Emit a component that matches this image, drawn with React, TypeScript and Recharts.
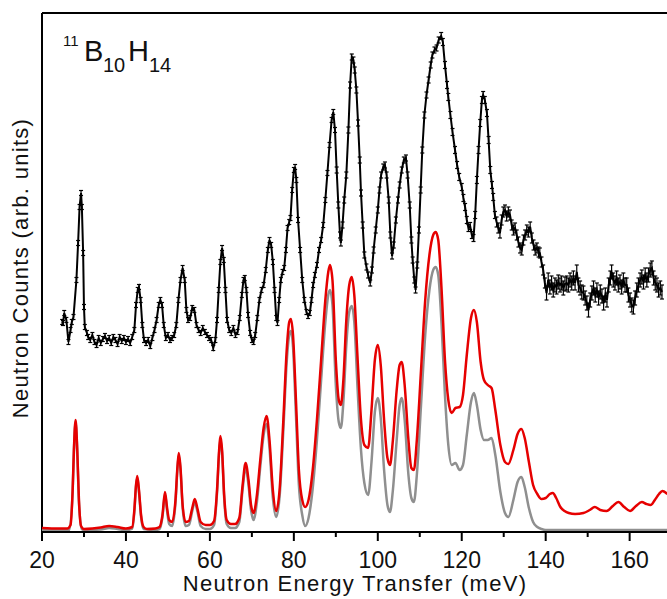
import React from "react";
import { LineChart, Line, XAxis, YAxis, ErrorBar, ReferenceLine } from "recharts";

// experimental INS spectrum: [energy meV, counts arb.]
const expPoints: [number, number][] = [
  [24.8, 21.0], [25.0, 20.9], [25.3, 21.9], [25.8, 21.2], [26.3, 19.0], [26.8, 20.2], [27.1, 21.0], [27.5, 21.5],
  [28.2, 25.2], [28.6, 28.9], [28.95, 32.5], [29.3, 33.9], [29.5, 32.5], [29.8, 27.9], [30.0, 22.5], [30.2, 20.5],
  [30.7, 19.9], [31.0, 19.5], [31.5, 19.2], [32.0, 19.7], [32.5, 19.0], [33.0, 18.7], [33.5, 19.4], [34.0, 18.9],
  [34.5, 19.3], [35.0, 19.6], [35.5, 19.1], [36.0, 19.4], [36.5, 18.9], [37.0, 19.5], [37.5, 19.2], [38.0, 18.8],
  [38.5, 19.5], [39.0, 19.1], [39.5, 19.4], [40.0, 19.0], [40.5, 19.3], [41.0, 18.9], [41.5, 19.5], [42.0, 20.2],
  [42.4, 22.7], [42.8, 24.2], [43.1, 24.5], [43.5, 23.2], [43.9, 20.7], [44.3, 19.2], [44.8, 18.9], [45.3, 19.2],
  [45.8, 18.6], [46.3, 19.4], [46.8, 20.2], [47.3, 21.2], [47.8, 22.7], [48.2, 23.2], [48.6, 22.7], [49.0, 20.7],
  [49.5, 19.4], [50.0, 19.7], [50.5, 19.2], [51.0, 19.4], [51.5, 19.7], [52.0, 20.7], [52.5, 23.2], [53.0, 25.2],
  [53.5, 26.4], [54.0, 25.2], [54.4, 22.2], [54.8, 21.2], [55.3, 21.4], [55.8, 22.4], [56.3, 22.2], [56.8, 20.7],
  [57.3, 20.2], [57.8, 19.9], [58.3, 20.4], [58.8, 20.0], [59.3, 19.7], [59.8, 19.4], [60.3, 19.2], [60.8, 18.4],
  [61.3, 19.2], [61.7, 21.2], [62.1, 24.2], [62.5, 27.0], [62.9, 28.4], [63.3, 27.2], [63.7, 24.2], [64.1, 21.2],
  [64.6, 20.2], [65.1, 19.9], [65.6, 20.4], [66.1, 19.7], [66.6, 20.0], [67.1, 21.4], [67.6, 23.7], [68.0, 25.2],
  [68.3, 25.4], [68.7, 24.2], [69.1, 21.7], [69.6, 19.9], [70.0, 19.2], [70.4, 19.0], [70.8, 19.7], [71.3, 21.4],
  [71.8, 23.2], [72.3, 24.2], [72.8, 24.7], [73.3, 26.2], [73.8, 28.2], [74.2, 29.2], [74.6, 28.7], [75.0, 27.0],
  [75.4, 24.2], [75.8, 21.4], [76.1, 20.9], [76.5, 23.2], [76.9, 25.2], [77.3, 26.0], [77.7, 26.4], [78.1, 28.2],
  [78.5, 30.4], [78.9, 31.0], [79.2, 31.4], [79.6, 34.2], [80.0, 36.2], [80.3, 36.5], [80.6, 35.2], [81.0, 31.2],
  [81.5, 28.2], [82.0, 25.2], [82.5, 23.2], [83.0, 22.0], [83.4, 21.6], [83.8, 21.9], [84.2, 23.2], [84.6, 24.7],
  [85.0, 25.7], [85.5, 26.7], [86.0, 28.2], [86.5, 29.2], [87.0, 30.7], [87.5, 33.2], [88.0, 35.9], [88.5, 38.7],
  [89.0, 41.2], [89.4, 42.0], [89.8, 40.2], [90.2, 36.2], [90.6, 32.7], [91.0, 29.7], [91.2, 28.9], [91.6, 30.7],
  [92.0, 33.2], [92.5, 35.7], [93.0, 40.2], [93.4, 44.7], [93.8, 47.5], [94.2, 47.2], [94.5, 46.2], [94.9, 44.2],
  [95.3, 40.9], [95.7, 37.2], [96.0, 33.9], [96.4, 30.7], [96.8, 27.7], [97.3, 26.5], [97.7, 25.7], [98.2, 24.9],
  [98.6, 26.2], [99.0, 28.2], [99.5, 30.2], [100.0, 32.2], [100.4, 34.2], [100.8, 35.7], [101.3, 36.5], [101.7, 36.7],
  [102.1, 35.7], [102.6, 33.2], [103.0, 29.7], [103.4, 27.6], [103.8, 28.7], [104.3, 31.2], [104.8, 33.2], [105.2, 34.7],
  [105.7, 36.2], [106.2, 37.2], [106.7, 37.4], [107.1, 35.7], [107.6, 32.7], [108.0, 29.2], [108.3, 27.2], [108.7, 25.2],
  [109.0, 24.2], [109.4, 26.7], [109.8, 30.2], [110.2, 34.2], [110.6, 38.2], [111.1, 41.7], [111.6, 43.7], [112.1, 45.2],
  [112.6, 46.7], [113.0, 47.7], [113.5, 48.2], [114.0, 48.4], [114.5, 49.2], [115.1, 49.6], [115.5, 49.0], [116.0, 46.7],
  [116.5, 44.7], [116.8, 43.5], [117.3, 41.7], [117.8, 40.0], [118.4, 38.2], [118.9, 36.7], [119.4, 35.5], [120.0, 34.5],
  [120.4, 33.4], [120.8, 32.5], [121.2, 31.2], [121.6, 30.4], [122.0, 30.6], [122.4, 29.7], [122.8, 29.4], [123.2, 31.7],
  [123.6, 35.2], [124.0, 38.2], [124.4, 40.9], [124.8, 43.2], [125.1, 43.7], [125.5, 43.2], [126.0, 41.9], [126.4, 39.2],
  [126.8, 36.2], [127.2, 34.7], [127.5, 33.5], [127.9, 31.7], [128.3, 31.0], [128.7, 30.4], [129.1, 29.9], [129.5, 31.2],
  [129.9, 32.0], [130.3, 32.2], [130.7, 31.6], [131.1, 32.0], [131.5, 31.7], [131.9, 30.7], [132.3, 30.2], [132.7, 30.4],
  [133.1, 29.7], [133.5, 29.0], [133.9, 28.4], [134.3, 28.2], [134.7, 29.2], [135.1, 29.7], [135.5, 30.2], [135.9, 30.0],
  [136.3, 30.5], [136.7, 29.4], [137.1, 28.7], [137.5, 28.2], [137.9, 28.4], [138.3, 28.0], [138.6, 27.9], [139.0, 27.0],
  [139.4, 26.2], [139.8, 24.9], [140.2, 23.9], [140.6, 25.2], [141.0, 24.5], [141.4, 24.9], [141.8, 24.2], [142.2, 24.7],
  [142.6, 24.5], [143.0, 25.0], [143.4, 24.7], [143.8, 24.9], [144.2, 24.4], [144.6, 24.8], [145.0, 24.9], [145.4, 24.7],
  [145.8, 25.2], [146.2, 24.9], [146.6, 25.4], [147.0, 24.9], [147.4, 26.0], [147.8, 24.7], [148.2, 24.4], [148.6, 24.0],
  [149.0, 23.9], [149.4, 23.4], [149.8, 22.9], [150.2, 22.2], [150.6, 23.2], [151.0, 23.9], [151.4, 24.4], [151.8, 23.7],
  [152.2, 24.2], [152.6, 23.4], [153.0, 24.0], [153.4, 23.6], [153.8, 22.9], [154.2, 23.7], [154.6, 23.2], [155.0, 24.7],
  [155.4, 25.4], [155.7, 26.0], [156.1, 25.2], [156.5, 24.9], [156.9, 25.4], [157.3, 24.7], [157.7, 25.0], [158.1, 24.5],
  [158.5, 25.2], [158.9, 24.7], [159.3, 24.7], [159.7, 23.7], [160.1, 23.2], [160.5, 22.7], [160.9, 22.5], [161.3, 23.4],
  [161.7, 24.2], [162.1, 24.7], [162.5, 25.2], [162.9, 25.5], [163.3, 25.0], [163.7, 25.7], [164.1, 25.2], [164.5, 25.7],
  [164.9, 26.2], [165.3, 26.4], [165.7, 25.4], [166.1, 24.9], [166.5, 24.7], [166.9, 24.2], [167.3, 24.4], [167.7, 24.0],
];

// error bar half-height, by energy range start
const errorBands: [number, number][] = [[20, 0.25], [90, 0.3], [115, 0.35], [128, 0.5], [140, 0.7]];

// calculated spectrum, all overtones (red)
const calcTotal: [number, number][] = [
  [20, 0.4], [24, 0.35], [26, 0.35], [26.8, 0.7], [27.3, 4.2], [27.6, 8.2], [28.0, 11.2], [28.4, 8.2], [28.8, 3.2],
  [29.3, 0.6], [30, 0.3], [32, 0.35], [34, 0.45], [36, 0.6], [38, 0.5], [40, 0.35], [41.5, 0.5], [42.0, 2.2],
  [42.4, 4.7], [42.7, 5.6], [43.1, 4.2], [43.6, 1.7], [44.2, 0.5], [45, 0.3], [47, 0.35], [48, 0.5], [48.7, 1.7],
  [49.3, 4.0], [49.8, 2.4], [50.3, 1.2], [51.0, 1.0], [51.8, 3.2], [52.3, 6.7], [52.6, 7.9], [53.0, 6.4], [53.5, 2.7],
  [54.2, 1.0], [55.0, 1.1], [55.8, 2.4], [56.4, 3.3], [57.0, 2.4], [57.8, 1.0], [59, 0.7], [60, 0.7], [61, 1.1],
  [61.7, 4.2], [62.2, 8.2], [62.5, 9.6], [62.9, 8.2], [63.4, 3.7], [64.0, 1.2], [65.0, 0.8], [66.0, 0.8], [67.0, 1.4],
  [67.8, 4.7], [68.5, 6.9], [69.2, 5.2], [69.8, 2.7], [70.4, 1.9], [71.2, 3.7], [72.0, 7.2], [72.8, 10.4], [73.5, 11.6],
  [74.2, 9.2], [75.0, 4.2], [75.8, 2.1], [76.6, 4.2], [77.5, 11.2], [78.3, 18.2], [78.9, 21.0], [79.3, 21.3], [79.8, 19.7],
  [80.5, 13.2], [81.2, 6.2], [82.0, 3.2], [82.7, 2.5], [83.5, 3.2], [84.5, 6.2], [85.5, 11.2], [86.5, 17.2], [87.5, 23.2],
  [88.2, 26.0], [88.6, 26.7], [89.2, 25.2], [90.0, 17.2], [90.7, 13.2], [91.2, 12.7], [91.8, 15.2], [92.5, 21.2], [93.2, 24.7],
  [93.8, 25.5], [94.4, 23.7], [95.2, 17.2], [96.0, 11.2], [96.8, 8.7], [97.7, 8.4], [98.5, 12.2], [99.3, 17.2], [100.0, 18.7],
  [100.7, 16.7], [101.5, 11.2], [102.3, 7.4], [102.9, 6.7], [103.6, 9.2], [104.5, 14.2], [105.2, 16.7], [105.7, 17.0],
  [106.4, 14.7], [107.3, 9.2], [108.0, 6.4], [108.6, 6.2], [109.3, 9.2], [110.3, 16.2], [111.3, 23.2], [112.3, 27.7],
  [113.2, 29.7], [113.8, 30.0], [114.4, 29.2], [115.2, 24.2], [116.0, 17.2], [116.8, 13.2], [117.6, 11.9], [118.5, 12.4],
  [119.5, 12.5], [120.3, 13.7], [121.2, 17.7], [122.2, 21.4], [122.9, 22.2], [123.6, 21.0], [124.5, 17.0], [125.3, 15.2],
  [126.2, 14.7], [127.1, 14.4], [128.0, 12.2], [129.2, 8.7], [130.3, 7.0], [131.1, 6.8], [132.3, 8.2], [133.3, 9.8],
  [134.2, 10.3], [135.0, 9.4], [136.0, 7.0], [137.0, 4.7], [138.0, 3.8], [139.0, 3.3], [140.0, 3.4], [141.0, 3.8],
  [141.7, 3.9], [142.5, 3.4], [143.5, 2.5], [144.5, 2.1], [145.5, 1.9], [147.0, 1.8], [149.0, 1.9], [150.5, 2.2],
  [151.7, 2.5], [153.0, 2.2], [154.5, 2.1], [156.0, 2.6], [157.3, 3.0], [158.7, 2.5], [160.1, 2.1], [161.5, 2.6],
  [162.9, 3.0], [164.0, 2.8], [165.0, 2.7], [166.0, 3.2], [167.0, 3.8], [167.8, 4.1], [169.0, 3.8],
];

// calculated spectrum, fundamentals only (grey)
const calcFundamental: [number, number][] = [
  [20, 0.2], [26.5, 0.2], [27.3, 4.0], [27.6, 8.0], [28.0, 11.0], [28.4, 8.0], [28.8, 3.0], [29.5, 0.3], [30, 0.2],
  [34, 0.25], [36, 0.4], [38, 0.3], [40, 0.2], [41.5, 0.35], [42.0, 2.0], [42.4, 4.6], [42.7, 5.4], [43.1, 4.0],
  [43.6, 1.5], [44.2, 0.3], [47, 0.2], [48, 0.3], [48.7, 1.5], [49.3, 3.8], [49.8, 2.1], [50.3, 0.8], [51.0, 0.6],
  [51.8, 2.9], [52.3, 6.5], [52.6, 7.7], [53.0, 6.2], [53.5, 2.5], [54.2, 0.6], [55.0, 0.7], [55.8, 2.1], [56.4, 3.0],
  [57.0, 2.1], [57.8, 0.6], [59, 0.3], [60, 0.3], [61, 0.7], [61.7, 3.9], [62.2, 7.9], [62.5, 9.2], [62.9, 7.9],
  [63.4, 3.4], [64.0, 0.8], [65.0, 0.4], [66.0, 0.4], [67.0, 1.0], [67.8, 4.3], [68.5, 6.4], [69.2, 4.7], [69.8, 2.2],
  [70.4, 1.2], [71.2, 3.0], [72.0, 6.5], [72.8, 9.7], [73.5, 10.8], [74.2, 8.4], [75.0, 3.4], [75.8, 1.5], [76.6, 3.5],
  [77.5, 10.2], [78.3, 17.0], [78.9, 19.7], [79.3, 20.1], [79.8, 18.5], [80.5, 11.7], [81.2, 4.7], [82.0, 1.7], [82.7, 0.6],
  [83.5, 1.4], [84.5, 4.4], [85.5, 9.2], [86.5, 15.2], [87.5, 21.0], [88.2, 23.7], [88.6, 24.2], [89.2, 22.7], [90.0, 14.7],
  [90.7, 11.0], [91.2, 10.4], [91.8, 13.0], [92.5, 18.7], [93.2, 22.0], [93.8, 22.6], [94.4, 21.0], [95.2, 14.2], [96.0, 8.2],
  [96.8, 4.9], [97.7, 3.7], [98.5, 7.0], [99.3, 12.0], [100.0, 13.4], [100.7, 11.4], [101.5, 6.2], [102.3, 2.7], [102.9, 2.0],
  [103.6, 4.2], [104.5, 9.2], [105.2, 12.7], [105.7, 13.4], [106.4, 11.2], [107.3, 5.7], [108.0, 3.4], [108.6, 3.0], [109.3, 5.7],
  [110.3, 12.7], [111.3, 19.7], [112.3, 24.2], [113.2, 26.2], [113.8, 26.5], [114.4, 25.7], [115.2, 20.7], [116.0, 13.7],
  [116.8, 8.7], [117.6, 6.7], [118.5, 6.9], [119.5, 6.2], [120.3, 6.7], [121.2, 9.7], [122.2, 13.0], [122.9, 13.9],
  [123.6, 12.7], [124.5, 10.2], [125.3, 9.2], [126.2, 9.2], [127.1, 9.4], [128.0, 7.7], [129.2, 4.0], [130.3, 1.9],
  [131.1, 1.5], [132.3, 3.2], [133.3, 5.0], [134.2, 5.5], [135.0, 4.5], [136.0, 2.4], [137.0, 1.0], [138.0, 0.5],
  [139.0, 0.3], [140.0, 0.2], [169, 0.2],
];

const majorTicks = [20, 40, 60, 80, 100, 120, 140, 160];
const allTicks = [20, 30, 40, 50, 60, 70, 80, 90, 100, 110, 120, 130, 140, 150, 160];

const FONT = "'Liberation Sans', Arial, Helvetica, sans-serif";

const errFor = (e: number) => {
  let err = errorBands[0][1];
  for (const [from, v] of errorBands) if (e >= from) err = v;
  return err;
};

const expData = expPoints.map(([e, v]) => ({ e, v, err: errFor(e) }));
const totalData = calcTotal.map(([e, v]) => ({ e, v }));
const fundData = calcFundamental.map(([e, v]) => ({ e, v }));

const XTick = (props: any) => {
  const { x, y, payload } = props;
  const major = majorTicks.includes(payload.value);
  return (
    <g>
      <line x1={x} x2={x} y1={y} y2={y + (major ? 9 : 5)} stroke="#000" strokeWidth={2} />
      {major && (
        <text x={x} y={y + 36} textAnchor="middle" fontSize={23} fontFamily={FONT} fill="#111">
          {payload.value}
        </text>
      )}
    </g>
  );
};

export default function App() {
  return (
    <div style={{ position: "absolute", left: 0, top: 0, width: 667, height: 599, background: "#fff" }}>
      <LineChart width={667} height={599} margin={{ top: 13, right: 0, bottom: 0, left: 42 }}>
        <XAxis
          dataKey="e"
          type="number"
          domain={[20, 168.9]}
          ticks={allTicks}
          allowDataOverflow
          height={67}
          tickSize={0}
          tickMargin={0}
          tickLine={false}
          tick={<XTick />}
          axisLine={{ stroke: "#000", strokeWidth: 2 }}
        />
        <YAxis type="number" domain={[0, 51.9]} allowDataOverflow width={0} tick={false} tickLine={false} axisLine={false} />
        <ReferenceLine y={51.9} stroke="#000" strokeWidth={2} />
        <ReferenceLine x={20} stroke="#000" strokeWidth={2} />
        <Line
          data={fundData}
          dataKey="v"
          type="monotone"
          stroke="#8f8f8f"
          strokeWidth={2.5}
          dot={false}
          isAnimationActive={false}
        />
        <Line
          data={totalData}
          dataKey="v"
          type="monotone"
          stroke="#e60000"
          strokeWidth={2.5}
          dot={false}
          isAnimationActive={false}
        />
        <Line
          data={expData}
          dataKey="v"
          type="linear"
          stroke="#000"
          strokeWidth={2}
          dot={false}
          isAnimationActive={false}
        >
          <ErrorBar dataKey="err" direction="y" width={2} stroke="#000" strokeWidth={1.2} />
        </Line>
      </LineChart>
      <svg
        width={667}
        height={599}
        style={{ position: "absolute", left: 0, top: 0, pointerEvents: "none" }}
        fontFamily={FONT}
        fill="#111"
      >
        <text x={63} y={46} fontSize={15}>11</text>
        <text x={84} y={61} fontSize={29}>B</text>
        <text x={103} y={72} fontSize={20}>10</text>
        <text x={128} y={61} fontSize={29}>H</text>
        <text x={149} y={72} fontSize={20}>14</text>
        <text x={355} y={591} fontSize={22} letterSpacing={1.3} textAnchor="middle">
          Neutron Energy Transfer (meV)
        </text>
        <text transform="translate(28,268) rotate(-90)" fontSize={22} letterSpacing={1.3} textAnchor="middle">
          Neutron Counts (arb. units)
        </text>
      </svg>
    </div>
  );
}
